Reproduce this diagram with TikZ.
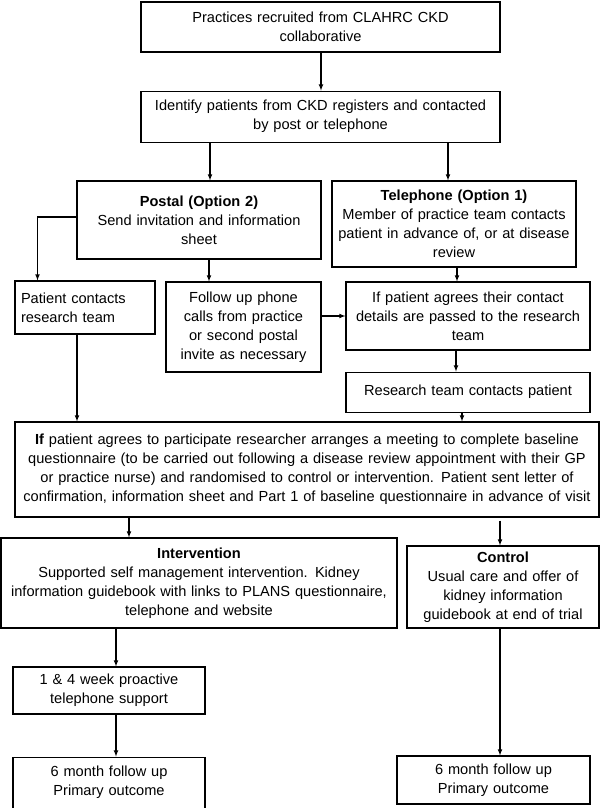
\documentclass[tikz,border=0pt]{standalone}
\usepackage{fontspec}
\setmainfont{Liberation Sans}
\usetikzlibrary{positioning,arrows}

\begin{document}
\begin{tikzpicture}[x=1pt,y=-1pt,line width=1.1pt,>=latex,
    box/.style={draw=black,align=center,inner sep=3pt,font=\fontsize{14.6}{19}\selectfont}]
                \useasboundingbox (0,0) rectangle (600,808);
                \node[box,text width=353pt,minimum height=50pt] (recruit) at (320.5,27) {Practices recruited from CLAHRC CKD\\collaborative};
                \node[box,text width=353pt,minimum height=51pt,below=38pt of recruit] (identify) {Identify patients from CKD registers and contacted\\by post or telephone};
                \node[box,text width=238pt,minimum height=78pt] (postal) at (199,220) {\textbf{Postal (Option 2)}\\Send invitation and information\\sheet};
                \node[box,text width=238pt,minimum height=86pt] (tel) at (454,224) {\textbf{Telephone (Option 1)}\\Member of practice team contacts\\patient in advance of, or at disease\\review};
                \node[box,align=left,inner sep=6pt,text width=128pt,minimum height=53pt] (patient) at (85,307.5) {Patient contacts\\research team};
                \node[box,text width=149pt,minimum height=90pt] (follow) at (243.5,327) {Follow up phone\\calls from practice\\or second postal\\invite as necessary};
                \node[box,text width=238pt,minimum height=68pt] (agree) at (468,316) {If patient agrees their contact\\details are passed to the research\\team};
                \node[box,text width=238pt,minimum height=40pt,below=21pt of agree] (research) {Research team contacts patient};
                \node[box,text width=578pt,minimum height=95pt] (big) at (307,469.5) {\textbf{If} patient agrees to participate researcher arranges a meeting to complete baseline\\questionnaire (to be carried out following a disease review appointment with their GP\\or practice nurse) and randomised to control or intervention. Patient sent letter of\\confirmation, information sheet and Part 1 of baseline questionnaire in advance of visit};
                \node[box,text width=390pt,minimum height=90pt] (interv) at (199,583) {\textbf{Intervention}\\Supported self management intervention. Kidney\\information guidebook with links to PLANS questionnaire,\\telephone and website};
                \node[box,text width=186pt,minimum height=82pt] (ctrl) at (503,587) {\textbf{Control}\\Usual care and offer of\\kidney information\\guidebook at end of trial};
                \node[box,text width=186pt,minimum height=47pt] (phone) at (109,690.5) {1 \& 4 week proactive\\telephone support};
                \node[box,text width=186pt,minimum height=51pt,below=42pt of phone] (six1) {6 month follow up\\Primary outcome};
                \node[box,text width=187pt,minimum height=48pt] (six2) at (493.5,780) {6 month follow up\\Primary outcome};
                \draw[->] ([xshift=0.5pt]recruit.south) -- ([xshift=0.5pt]identify.north);
                \draw[->] ([xshift=11pt]postal.north |- identify.south) -- ([xshift=11pt]postal.north);
                \draw[->] ([xshift=-6pt]tel.north |- identify.south) -- ([xshift=-6pt]tel.north);
                \draw[->] ([yshift=3pt]postal.west) -| ([xshift=-47.5pt]patient.north);
                \draw[->] ([xshift=10pt]postal.south) -- ([xshift=10pt]postal.south |- follow.north);
                \draw[->] (follow.east |- agree.west) -- (agree.west);
                \draw[->] ([xshift=3pt]tel.south) -- ([xshift=3pt]tel.south |- agree.north);
                \draw[->] ([xshift=-12pt]agree.south) -- ([xshift=-12pt]research.north);
                \draw[->] ([xshift=-6pt]research.south) -- ([xshift=-6pt]research.south |- big.north);
                \draw[->] ([xshift=-8pt]patient.south) -- ([xshift=-8pt]patient.south |- big.north);
                \draw[->] ([xshift=-70pt]interv.north |- big.south) -- ([xshift=-70pt]interv.north);
                \draw[->] ([xshift=-3pt,yshift=-3pt]ctrl.north |- big.south) -- ([xshift=-3pt]ctrl.north);
                \draw[->] ([xshift=7pt]phone.north |- interv.south) -- ([xshift=7pt]phone.north);
                \draw[->] ([xshift=7pt]phone.south) -- ([xshift=7pt]six1.north);
                \draw[->] ([xshift=-3pt]ctrl.south) -- ([xshift=-3pt]ctrl.south |- six2.north);
            \end{tikzpicture}
\end{document}
